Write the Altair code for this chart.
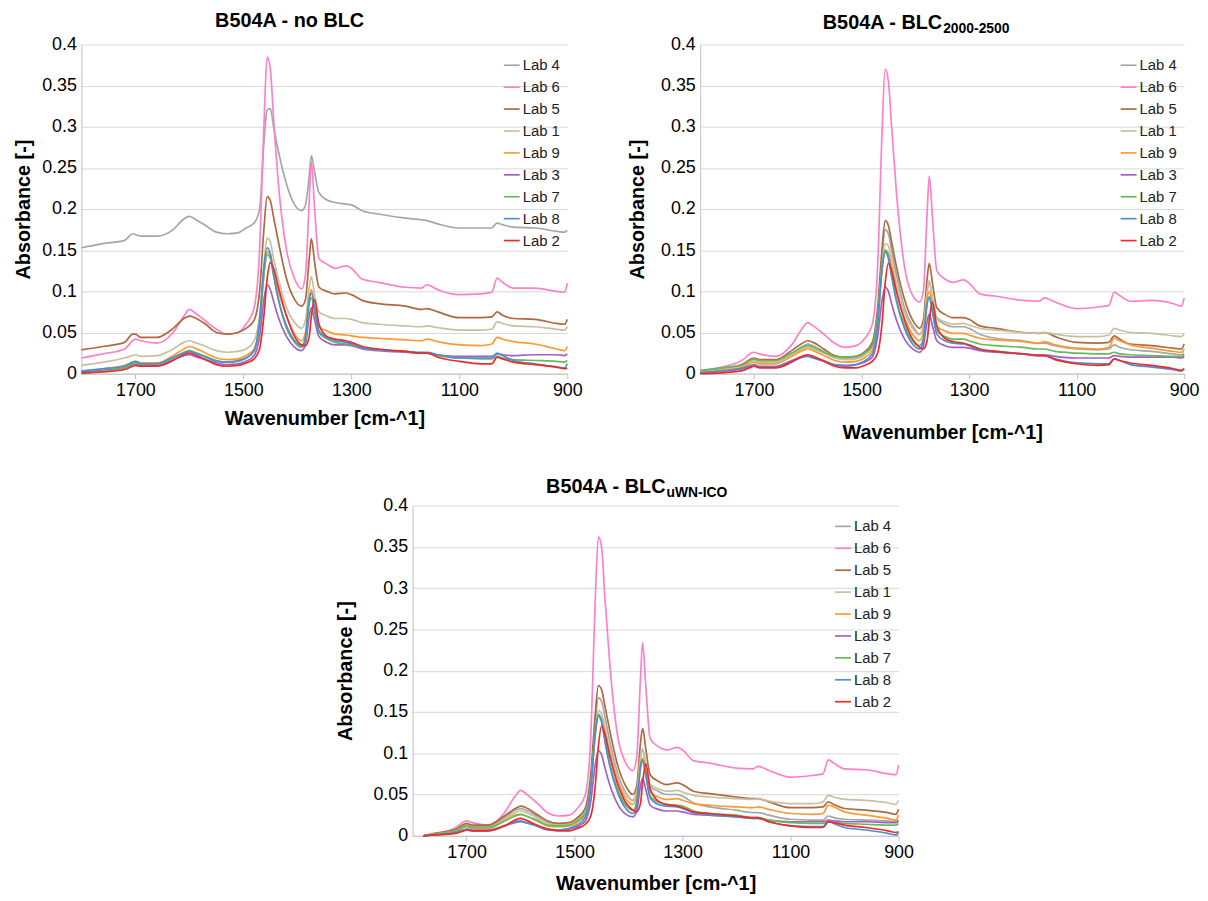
import altair as alt
import pandas as pd

FONT = "Liberation Sans"

# wavenumber grid (cm^-1)
WN = [1800, 1760, 1720, 1705, 1700, 1690, 1660, 1630, 1610, 1600,
      1590, 1570, 1550, 1530, 1510, 1495, 1480, 1470, 1462, 1456,
      1450, 1444, 1435, 1420, 1405, 1392, 1385, 1378, 1374, 1368,
      1360, 1345, 1330, 1310, 1300, 1280, 1250, 1200, 1170, 1160,
      1140, 1100, 1060, 1040, 1030, 1020, 1000, 960, 920, 905, 900]
WN3 = [1780] + WN[1:]

LABS = ["Lab 4", "Lab 6", "Lab 5", "Lab 1", "Lab 9", "Lab 3", "Lab 7", "Lab 8", "Lab 2"]
COLORS = ["#a6a6a6", "#ff80c8", "#b0683f", "#c8c0a0", "#ff9a33",
          "#a45fc4", "#65bb5a", "#4a8fd6", "#ee2b2b"]

# ---- Panel 1: no BLC ----
NOBLC_LAB4 = [0.153, 0.158, 0.162, 0.170, 0.169, 0.167, 0.167, 0.175, 0.188, 0.191,
              0.188, 0.180, 0.172, 0.170, 0.171, 0.177, 0.183, 0.200, 0.280, 0.320,
              0.322, 0.300, 0.270, 0.230, 0.205, 0.198, 0.205, 0.240, 0.265, 0.245,
              0.220, 0.211, 0.208, 0.206, 0.205, 0.198, 0.194, 0.189, 0.187, 0.186,
              0.182, 0.177, 0.177, 0.177, 0.183, 0.181, 0.178, 0.177, 0.173, 0.172, 0.174]
NOBLC_LAB6 = [0.019, 0.024, 0.030, 0.040, 0.042, 0.040, 0.037, 0.050, 0.070, 0.078,
              0.074, 0.064, 0.054, 0.048, 0.050, 0.060, 0.080, 0.150, 0.300, 0.385,
              0.370, 0.310, 0.230, 0.150, 0.115, 0.103, 0.120, 0.210, 0.258, 0.200,
              0.140, 0.133, 0.128, 0.131, 0.128, 0.115, 0.111, 0.105, 0.104, 0.108,
              0.102, 0.096, 0.097, 0.099, 0.116, 0.111, 0.104, 0.104, 0.100, 0.099, 0.110]
NOBLC_LAB5 = [0.029, 0.033, 0.038, 0.048, 0.048, 0.044, 0.044, 0.055, 0.067, 0.070,
              0.068, 0.060, 0.050, 0.048, 0.050, 0.055, 0.065, 0.100, 0.175, 0.215,
              0.210, 0.190, 0.160, 0.115, 0.090, 0.082, 0.090, 0.140, 0.164, 0.135,
              0.105, 0.100, 0.097, 0.098, 0.096, 0.089, 0.085, 0.082, 0.078, 0.079,
              0.075, 0.068, 0.068, 0.069, 0.075, 0.071, 0.067, 0.066, 0.061, 0.060, 0.066]
NOBLC_LAB1 = [0.010, 0.014, 0.019, 0.022, 0.023, 0.021, 0.022, 0.030, 0.038, 0.040,
              0.038, 0.033, 0.028, 0.026, 0.027, 0.030, 0.040, 0.070, 0.130, 0.165,
              0.160, 0.140, 0.115, 0.080, 0.062, 0.055, 0.065, 0.105, 0.118, 0.095,
              0.075, 0.070, 0.067, 0.067, 0.066, 0.062, 0.060, 0.058, 0.057, 0.058,
              0.056, 0.053, 0.053, 0.054, 0.063, 0.061, 0.058, 0.057, 0.054, 0.053, 0.057]
NOBLC_LAB9 = [0.003, 0.006, 0.010, 0.014, 0.015, 0.013, 0.013, 0.022, 0.030, 0.033,
              0.031, 0.025, 0.019, 0.017, 0.018, 0.022, 0.030, 0.060, 0.120, 0.148,
              0.145, 0.125, 0.100, 0.070, 0.048, 0.040, 0.050, 0.092, 0.102, 0.080,
              0.057, 0.052, 0.048, 0.047, 0.046, 0.044, 0.043, 0.041, 0.040, 0.042,
              0.039, 0.035, 0.034, 0.036, 0.044, 0.042, 0.039, 0.036, 0.030, 0.028, 0.033]
NOBLC_LAB3 = [0.002, 0.004, 0.007, 0.011, 0.012, 0.010, 0.010, 0.017, 0.022, 0.023,
              0.021, 0.017, 0.013, 0.011, 0.012, 0.015, 0.022, 0.045, 0.090, 0.108,
              0.102, 0.088, 0.068, 0.045, 0.032, 0.028, 0.035, 0.070, 0.080, 0.065,
              0.045, 0.038, 0.035, 0.035, 0.034, 0.030, 0.028, 0.026, 0.025, 0.025,
              0.023, 0.021, 0.021, 0.021, 0.024, 0.023, 0.022, 0.023, 0.023, 0.022, 0.024]
NOBLC_LAB7 = [0.000, 0.003, 0.007, 0.012, 0.013, 0.011, 0.012, 0.019, 0.026, 0.028,
              0.026, 0.021, 0.016, 0.014, 0.015, 0.019, 0.028, 0.060, 0.120, 0.145,
              0.140, 0.120, 0.090, 0.055, 0.038, 0.032, 0.040, 0.085, 0.092, 0.075,
              0.050, 0.042, 0.038, 0.036, 0.035, 0.031, 0.029, 0.027, 0.025, 0.025,
              0.022, 0.019, 0.018, 0.018, 0.021, 0.019, 0.017, 0.016, 0.015, 0.014, 0.016]
NOBLC_LAB8 = [0.003, 0.006, 0.009, 0.014, 0.015, 0.012, 0.012, 0.020, 0.025, 0.027,
              0.025, 0.020, 0.015, 0.014, 0.016, 0.019, 0.028, 0.065, 0.130, 0.153,
              0.145, 0.120, 0.090, 0.058, 0.040, 0.034, 0.045, 0.090, 0.098, 0.080,
              0.052, 0.044, 0.040, 0.038, 0.036, 0.031, 0.029, 0.027, 0.026, 0.026,
              0.023, 0.019, 0.019, 0.019, 0.025, 0.022, 0.016, 0.012, 0.008, 0.007, 0.012]
NOBLC_LAB2 = [0.001, 0.002, 0.005, 0.009, 0.010, 0.009, 0.009, 0.016, 0.023, 0.025,
              0.023, 0.017, 0.011, 0.009, 0.010, 0.013, 0.018, 0.030, 0.070, 0.115,
              0.135, 0.128, 0.105, 0.070, 0.045, 0.035, 0.034, 0.045, 0.070, 0.090,
              0.060, 0.045, 0.042, 0.040, 0.038, 0.033, 0.030, 0.027, 0.025, 0.025,
              0.020, 0.015, 0.012, 0.012, 0.020, 0.018, 0.014, 0.011, 0.008, 0.006, 0.007]

# ---- Panel 2: BLC 2000-2500 ----
BLC_LAB4 = [0.002, 0.005, 0.010, 0.016, 0.017, 0.015, 0.014, 0.024, 0.033, 0.036,
            0.034, 0.027, 0.020, 0.018, 0.019, 0.024, 0.035, 0.070, 0.140, 0.175,
            0.170, 0.150, 0.120, 0.080, 0.058, 0.048, 0.058, 0.100, 0.112, 0.090,
            0.068, 0.060, 0.057, 0.057, 0.055, 0.048, 0.043, 0.040, 0.037, 0.037,
            0.034, 0.030, 0.029, 0.030, 0.035, 0.032, 0.029, 0.027, 0.024, 0.023, 0.025]
BLC_LAB6 = [0.003, 0.008, 0.017, 0.025, 0.026, 0.024, 0.021, 0.035, 0.055, 0.062,
            0.058, 0.048, 0.037, 0.032, 0.034, 0.042, 0.060, 0.130, 0.290, 0.370,
            0.355, 0.300, 0.220, 0.130, 0.095, 0.087, 0.100, 0.195, 0.240, 0.190,
            0.125, 0.115, 0.111, 0.114, 0.110, 0.097, 0.094, 0.089, 0.088, 0.092,
            0.087, 0.079, 0.081, 0.083, 0.099, 0.095, 0.088, 0.089, 0.085, 0.082, 0.092]
BLC_LAB5 = [0.002, 0.006, 0.012, 0.018, 0.019, 0.017, 0.017, 0.028, 0.037, 0.040,
            0.038, 0.030, 0.022, 0.020, 0.021, 0.026, 0.038, 0.080, 0.150, 0.186,
            0.180, 0.160, 0.130, 0.090, 0.065, 0.055, 0.065, 0.115, 0.134, 0.110,
            0.080, 0.072, 0.068, 0.068, 0.066, 0.058, 0.055, 0.050, 0.049, 0.050,
            0.045, 0.038, 0.037, 0.038, 0.046, 0.042, 0.036, 0.034, 0.031, 0.030, 0.036]
BLC_LAB1 = [0.002, 0.005, 0.010, 0.015, 0.016, 0.014, 0.014, 0.023, 0.030, 0.032,
            0.030, 0.025, 0.019, 0.017, 0.018, 0.022, 0.032, 0.065, 0.130, 0.158,
            0.155, 0.140, 0.110, 0.075, 0.055, 0.047, 0.057, 0.100, 0.113, 0.090,
            0.068, 0.063, 0.060, 0.061, 0.059, 0.055, 0.053, 0.050, 0.049, 0.050,
            0.048, 0.045, 0.045, 0.047, 0.055, 0.053, 0.050, 0.049, 0.046, 0.045, 0.049]
BLC_LAB9 = [0.001, 0.004, 0.008, 0.013, 0.014, 0.012, 0.012, 0.021, 0.028, 0.030,
            0.028, 0.022, 0.016, 0.014, 0.015, 0.019, 0.028, 0.060, 0.125, 0.150,
            0.146, 0.130, 0.100, 0.068, 0.048, 0.040, 0.050, 0.092, 0.100, 0.082,
            0.058, 0.052, 0.049, 0.049, 0.047, 0.043, 0.041, 0.039, 0.037, 0.039,
            0.035, 0.031, 0.030, 0.032, 0.043, 0.040, 0.035, 0.031, 0.027, 0.026, 0.030]
BLC_LAB3 = [0.001, 0.003, 0.007, 0.010, 0.011, 0.009, 0.009, 0.016, 0.021, 0.022,
            0.020, 0.016, 0.011, 0.010, 0.011, 0.014, 0.020, 0.045, 0.088, 0.105,
            0.100, 0.085, 0.065, 0.042, 0.030, 0.026, 0.033, 0.063, 0.072, 0.058,
            0.040, 0.034, 0.032, 0.032, 0.031, 0.028, 0.026, 0.024, 0.023, 0.023,
            0.021, 0.019, 0.019, 0.019, 0.022, 0.021, 0.020, 0.020, 0.020, 0.019, 0.021]
BLC_LAB7 = [0.004, 0.007, 0.011, 0.017, 0.018, 0.016, 0.016, 0.025, 0.032, 0.034,
            0.032, 0.026, 0.021, 0.020, 0.021, 0.025, 0.034, 0.070, 0.128, 0.150,
            0.143, 0.120, 0.090, 0.058, 0.040, 0.034, 0.042, 0.085, 0.093, 0.076,
            0.052, 0.045, 0.042, 0.042, 0.040, 0.036, 0.034, 0.032, 0.030, 0.030,
            0.027, 0.025, 0.024, 0.024, 0.026, 0.024, 0.023, 0.022, 0.021, 0.021, 0.023]
BLC_LAB8 = [0.001, 0.003, 0.006, 0.009, 0.010, 0.008, 0.008, 0.015, 0.020, 0.021,
            0.019, 0.015, 0.010, 0.009, 0.011, 0.015, 0.024, 0.060, 0.125, 0.148,
            0.140, 0.118, 0.088, 0.055, 0.036, 0.030, 0.040, 0.085, 0.093, 0.075,
            0.048, 0.040, 0.037, 0.036, 0.034, 0.029, 0.027, 0.024, 0.022, 0.022,
            0.018, 0.013, 0.012, 0.012, 0.018, 0.016, 0.011, 0.008, 0.005, 0.003, 0.006]
BLC_LAB2 = [0.000, 0.001, 0.004, 0.008, 0.009, 0.007, 0.007, 0.014, 0.021, 0.023,
            0.021, 0.015, 0.009, 0.007, 0.007, 0.010, 0.015, 0.025, 0.060, 0.110,
            0.134, 0.125, 0.100, 0.065, 0.042, 0.032, 0.030, 0.040, 0.065, 0.087,
            0.058, 0.043, 0.039, 0.037, 0.035, 0.030, 0.027, 0.024, 0.022, 0.022,
            0.017, 0.012, 0.010, 0.011, 0.018, 0.016, 0.013, 0.010, 0.006, 0.004, 0.006]

# ---- Panel 3: BLC uWN-ICO ----
ICO_LAB4 = [0.000, 0.002, 0.006, 0.012, 0.013, 0.011, 0.011, 0.022, 0.031, 0.033,
            0.031, 0.024, 0.016, 0.014, 0.015, 0.020, 0.030, 0.065, 0.135, 0.167,
            0.163, 0.145, 0.115, 0.075, 0.052, 0.043, 0.053, 0.095, 0.105, 0.085,
            0.060, 0.054, 0.050, 0.050, 0.048, 0.040, 0.035, 0.031, 0.028, 0.028,
            0.025, 0.020, 0.019, 0.019, 0.024, 0.022, 0.020, 0.019, 0.018, 0.017, 0.019]
ICO_LAB6 = [0.000, 0.002, 0.010, 0.017, 0.018, 0.016, 0.013, 0.028, 0.048, 0.055,
            0.051, 0.040, 0.028, 0.024, 0.025, 0.033, 0.050, 0.120, 0.280, 0.362,
            0.350, 0.290, 0.210, 0.120, 0.088, 0.079, 0.095, 0.190, 0.234, 0.180,
            0.118, 0.108, 0.104, 0.107, 0.104, 0.091, 0.088, 0.082, 0.081, 0.084,
            0.079, 0.071, 0.073, 0.075, 0.092, 0.088, 0.081, 0.080, 0.075, 0.074, 0.086]
ICO_LAB5 = [0.000, 0.003, 0.008, 0.014, 0.015, 0.013, 0.013, 0.024, 0.033, 0.036,
            0.034, 0.026, 0.018, 0.015, 0.016, 0.022, 0.034, 0.075, 0.145, 0.182,
            0.177, 0.158, 0.128, 0.085, 0.060, 0.050, 0.060, 0.112, 0.130, 0.105,
            0.074, 0.066, 0.062, 0.064, 0.062, 0.054, 0.051, 0.047, 0.045, 0.045,
            0.041, 0.034, 0.034, 0.035, 0.041, 0.038, 0.033, 0.031, 0.028, 0.026, 0.032]
ICO_LAB1 = [0.000, 0.002, 0.006, 0.011, 0.012, 0.010, 0.010, 0.020, 0.028, 0.030,
            0.028, 0.022, 0.015, 0.013, 0.014, 0.019, 0.028, 0.060, 0.122, 0.152,
            0.148, 0.132, 0.105, 0.070, 0.050, 0.042, 0.052, 0.095, 0.105, 0.085,
            0.062, 0.057, 0.054, 0.055, 0.053, 0.049, 0.047, 0.045, 0.044, 0.045,
            0.042, 0.039, 0.039, 0.041, 0.049, 0.047, 0.044, 0.043, 0.040, 0.038, 0.043]
ICO_LAB9 = [0.000, 0.002, 0.005, 0.010, 0.011, 0.009, 0.009, 0.018, 0.025, 0.026,
            0.024, 0.018, 0.012, 0.011, 0.012, 0.016, 0.025, 0.058, 0.120, 0.145,
            0.141, 0.125, 0.097, 0.065, 0.045, 0.038, 0.047, 0.087, 0.094, 0.078,
            0.053, 0.047, 0.044, 0.045, 0.043, 0.039, 0.037, 0.035, 0.034, 0.035,
            0.032, 0.027, 0.026, 0.027, 0.037, 0.035, 0.029, 0.025, 0.021, 0.019, 0.025]
ICO_LAB3 = [0.000, 0.001, 0.004, 0.007, 0.008, 0.007, 0.007, 0.012, 0.016, 0.017,
            0.016, 0.012, 0.008, 0.007, 0.008, 0.011, 0.018, 0.042, 0.085, 0.103,
            0.098, 0.083, 0.062, 0.038, 0.026, 0.023, 0.030, 0.060, 0.070, 0.056,
            0.037, 0.032, 0.030, 0.030, 0.029, 0.026, 0.025, 0.023, 0.021, 0.021,
            0.019, 0.017, 0.017, 0.017, 0.019, 0.018, 0.017, 0.017, 0.016, 0.016, 0.018]
ICO_LAB7 = [0.000, 0.002, 0.006, 0.011, 0.012, 0.010, 0.010, 0.018, 0.024, 0.026,
            0.024, 0.019, 0.013, 0.012, 0.013, 0.018, 0.027, 0.062, 0.125, 0.147,
            0.140, 0.118, 0.088, 0.055, 0.037, 0.031, 0.040, 0.082, 0.090, 0.073,
            0.048, 0.041, 0.038, 0.037, 0.036, 0.030, 0.027, 0.025, 0.022, 0.022,
            0.019, 0.016, 0.015, 0.015, 0.017, 0.016, 0.015, 0.014, 0.013, 0.013, 0.015]
ICO_LAB8 = [0.000, 0.001, 0.004, 0.007, 0.008, 0.006, 0.006, 0.012, 0.017, 0.018,
            0.016, 0.012, 0.007, 0.007, 0.009, 0.013, 0.022, 0.058, 0.122, 0.145,
            0.138, 0.115, 0.085, 0.052, 0.033, 0.027, 0.037, 0.083, 0.092, 0.074,
            0.046, 0.038, 0.036, 0.035, 0.033, 0.028, 0.025, 0.023, 0.021, 0.021,
            0.017, 0.012, 0.011, 0.011, 0.017, 0.015, 0.010, 0.007, 0.003, 0.001, 0.003]
ICO_LAB2 = [0.000, 0.001, 0.003, 0.006, 0.007, 0.006, 0.006, 0.012, 0.019, 0.021,
            0.019, 0.013, 0.008, 0.006, 0.006, 0.009, 0.014, 0.024, 0.058, 0.108,
            0.133, 0.124, 0.098, 0.062, 0.040, 0.031, 0.029, 0.039, 0.064, 0.087,
            0.057, 0.042, 0.038, 0.036, 0.034, 0.029, 0.027, 0.024, 0.022, 0.022,
            0.017, 0.012, 0.010, 0.010, 0.017, 0.016, 0.013, 0.010, 0.006, 0.004, 0.005]

X_TICKS = [1700, 1500, 1300, 1100, 900]
Y_TICKS = [0, 0.05, 0.1, 0.15, 0.2, 0.25, 0.3, 0.35, 0.4]

NOBLC = [NOBLC_LAB4, NOBLC_LAB6, NOBLC_LAB5, NOBLC_LAB1, NOBLC_LAB9,
         NOBLC_LAB3, NOBLC_LAB7, NOBLC_LAB8, NOBLC_LAB2]
BLC = [BLC_LAB4, BLC_LAB6, BLC_LAB5, BLC_LAB1, BLC_LAB9,
       BLC_LAB3, BLC_LAB7, BLC_LAB8, BLC_LAB2]
ICO = [ICO_LAB4, ICO_LAB6, ICO_LAB5, ICO_LAB1, ICO_LAB9,
       ICO_LAB3, ICO_LAB7, ICO_LAB8, ICO_LAB2]


def build_df(wn, series):
    rows = []
    for lab, vals in zip(LABS, series):
        if len(vals) != len(wn):
            raise ValueError(f"{lab}: {len(vals)} values for {len(wn)} wavenumbers")
        for w, v in zip(wn, vals):
            rows.append({"wn": w, "a": v, "lab": lab})
    return pd.DataFrame(rows)


def title_layers(main, sub, x, y):
    out = []
    if sub is None:
        out.append(
            alt.Chart(pd.DataFrame({"t": [main]}))
            .mark_text(align="center", baseline="alphabetic", font=FONT,
                       fontSize=20, fontWeight="bold", color="#000000")
            .encode(x=alt.value(x), y=alt.value(y), text="t:N")
        )
    else:
        out.append(
            alt.Chart(pd.DataFrame({"t": [main]}))
            .mark_text(align="right", baseline="alphabetic", font=FONT,
                       fontSize=20, fontWeight="bold", color="#000000")
            .encode(x=alt.value(x), y=alt.value(y), text="t:N")
        )
        out.append(
            alt.Chart(pd.DataFrame({"t": [sub]}))
            .mark_text(align="left", baseline="alphabetic", font=FONT,
                       fontSize=14, fontWeight="bold", color="#000000")
            .encode(x=alt.value(x + 1), y=alt.value(y + 4), text="t:N")
        )
    return out


def panel(wn, series, width, height, xtp, ytp, legend_x, tmain, tsub, tx, ty):
    df = build_df(wn, series)
    x = alt.X("wn:Q",
              scale=alt.Scale(domain=[900, 1800], reverse=True, nice=False, zero=False),
              axis=alt.Axis(values=X_TICKS, title="Wavenumber [cm-^1]", titlePadding=xtp,
                            grid=False, ticks=True, tickSize=5, labelPadding=3,
                            labelFlush=False, format="d"))
    y = alt.Y("a:Q",
              scale=alt.Scale(domain=[0, 0.4], nice=False),
              axis=alt.Axis(values=Y_TICKS, format="~g", title="Absorbance [-]",
                            titlePadding=ytp, grid=True, ticks=False, labelPadding=5))
    color = alt.Color("lab:N",
                      scale=alt.Scale(domain=LABS, range=COLORS),
                      legend=alt.Legend(orient="none", legendX=legend_x, legendY=12,
                                        title=None, symbolType="stroke", symbolSize=256,
                                        symbolStrokeWidth=1.7, labelFontSize=15,
                                        labelFont=FONT, labelColor="#222222",
                                        rowPadding=5.1, labelOffset=2, padding=0))
    lines = [
        alt.Chart(df).transform_filter(alt.datum.lab == lab)
        .mark_line(strokeWidth=1.7, interpolate="monotone")
        .encode(x=x, y=y, color=color)
        for lab in LABS
    ]
    return alt.layer(*lines, *title_layers(tmain, tsub, tx, ty)).properties(
        width=width, height=height)


p1 = panel(WN, NOBLC, 490, 332, 9, 8, 425, "B504A - no BLC", None, 210, -18)
p2 = panel(WN, BLC, 488, 332, 23, 13, 423, "B504A - BLC", "2000-2500", 244, -16)
p3 = panel(WN3, ICO, 490, 333, 12, 18, 425, "B504A - BLC", "uWN-ICO", 255, -13)

spacer = (
    alt.Chart(pd.DataFrame({"s": [0]}))
    .mark_point(opacity=0)
    .encode(x=alt.X("s:Q", axis=None), y=alt.Y("s:Q", axis=None))
    .properties(width=255, height=10)
)

top = alt.hconcat(p1, p2, spacing=44).resolve_legend(color="independent")
bottom = alt.hconcat(spacer, p3, spacing=0).resolve_legend(color="independent")

chart = (
    alt.vconcat(top, bottom, spacing=35)
    .resolve_legend(color="independent")
    .properties(padding={"left": 5, "top": -1, "right": 0, "bottom": 0})
    .configure_view(stroke=None)
    .configure_axis(labelFont=FONT, labelFontSize=18, labelColor="#000000",
                    titleFont=FONT, titleFontSize=20, titleFontWeight="bold",
                    titleColor="#000000", domainColor="#bfbfbf", tickColor="#bfbfbf",
                    gridColor="#d9d9d9", gridWidth=1)
)

chart.save("out.html", embed_options={"renderer": "svg", "actions": False})
